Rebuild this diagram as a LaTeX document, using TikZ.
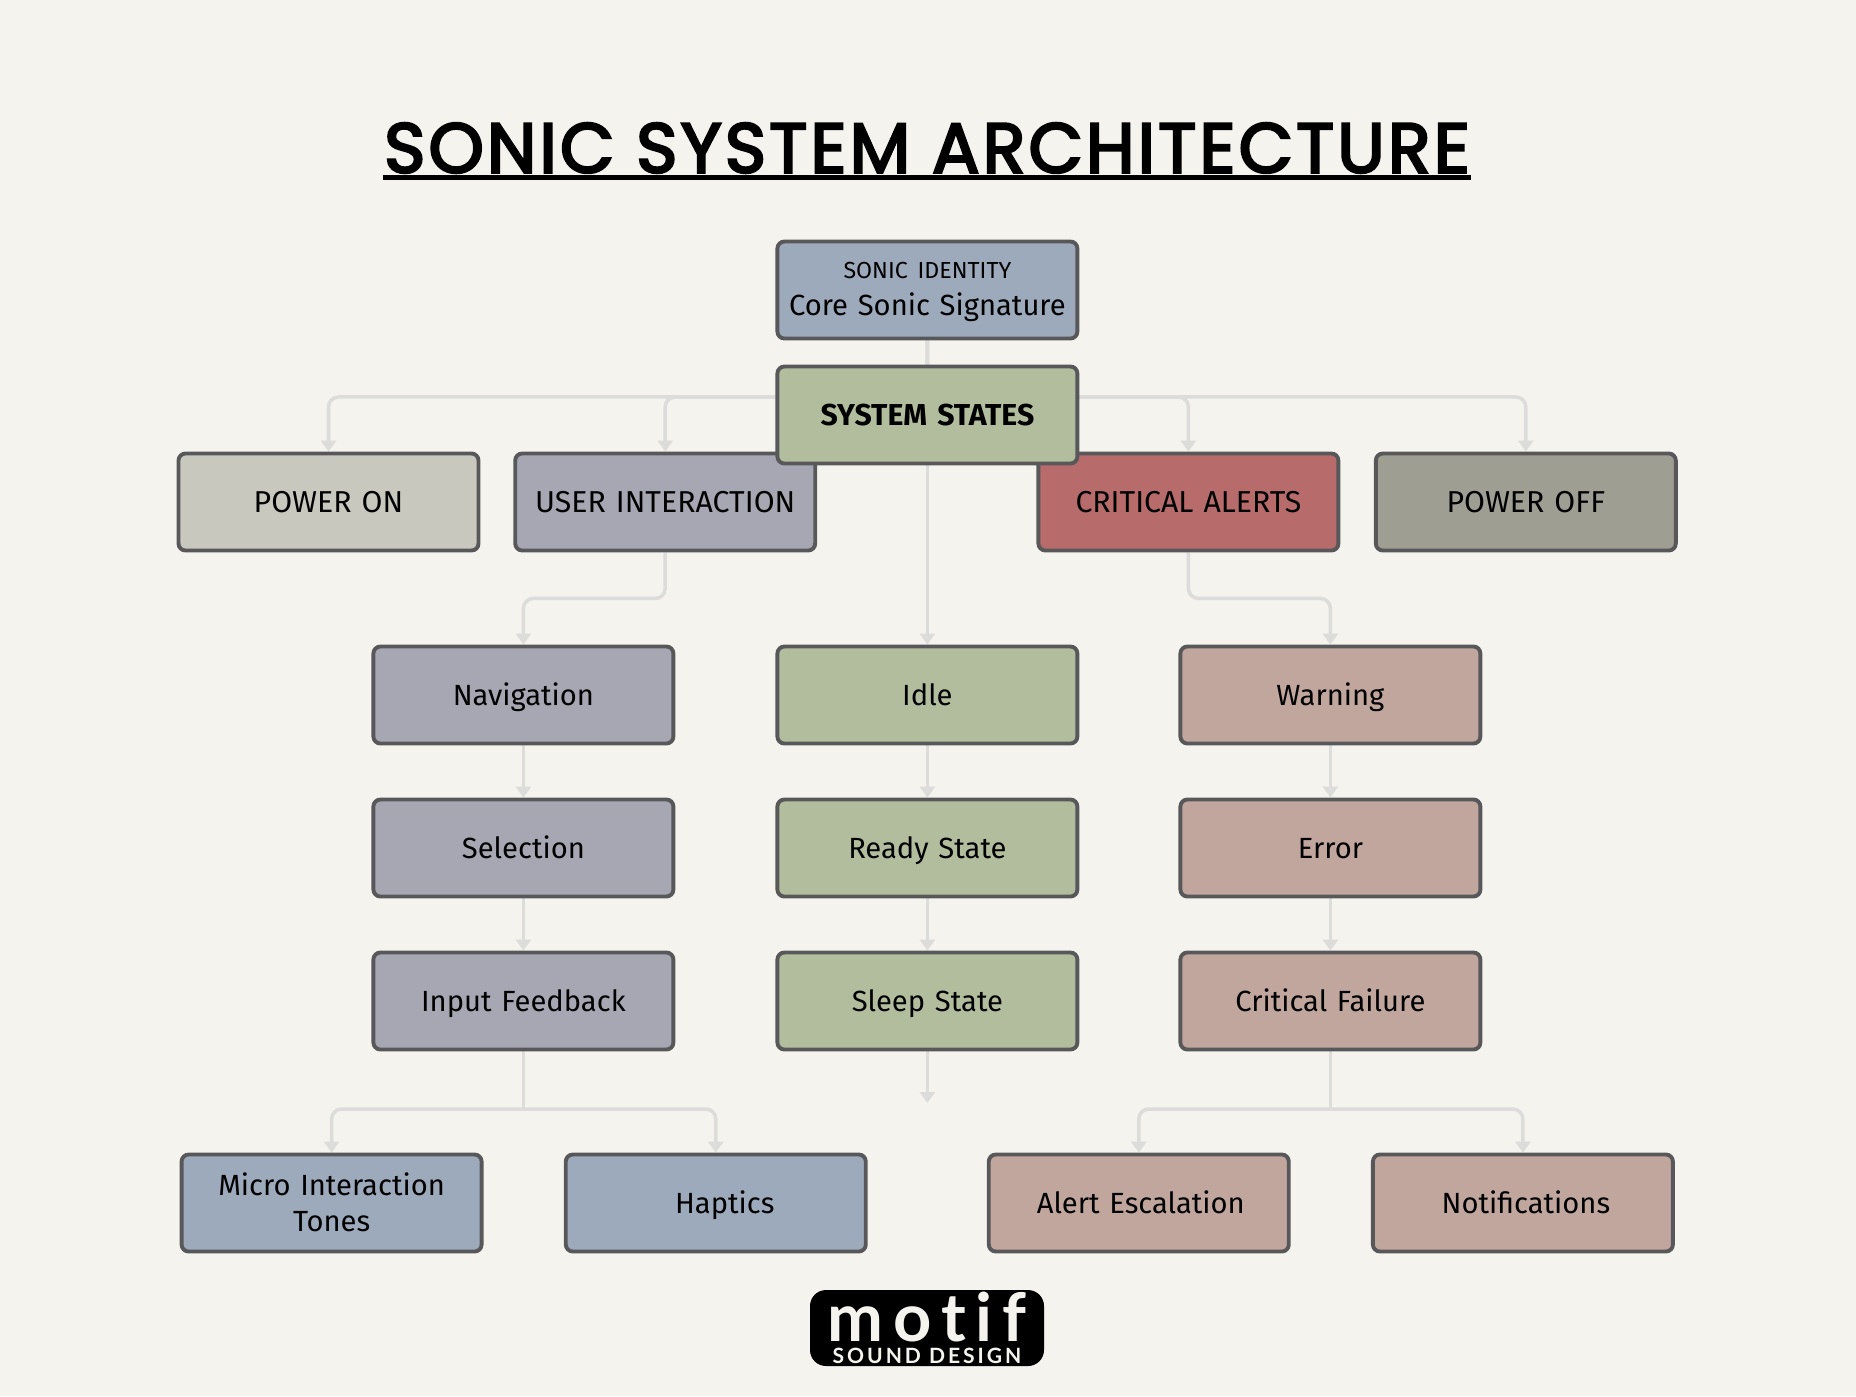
\documentclass[tikz,border=0pt]{standalone}
\usepackage{fontspec}
\setmainfont{Fira Sans}
\newfontfamily\titlefont[FakeBold=3.5, LetterSpace=4.5]{Poppins}
\newfontfamily\logofont{Lato}
\usetikzlibrary{arrows.meta, positioning, backgrounds}

\definecolor{paper}{HTML}{F4F3EE}
\definecolor{slate}{HTML}{9DAABC}
\definecolor{sage}{HTML}{B2BD9D}
\definecolor{stone}{HTML}{C8C8BE}
\definecolor{lavender}{HTML}{A7A7B3}
\definecolor{alarm}{HTML}{B76B6B}
\definecolor{ash}{HTML}{9E9E92}
\definecolor{rose}{HTML}{C1A69E}
\definecolor{edge}{HTML}{58585A}
\definecolor{wire}{HTML}{DCDCDA}

\begin{document}
\begin{tikzpicture}[node distance=1.53cm, auto]
\tikzstyle{block} = [rectangle, draw=edge, line width=1.1pt, text width=2.95cm, align=center, minimum width=3cm, minimum height=0.97cm, inner sep=0pt, rounded corners=0.07cm, font=\fontsize{8.3}{10.4}\selectfont, execute at begin node={\rule{0pt}{8.2pt}}, execute at end node={\rule[-2.2pt]{0pt}{2.2pt}}]
\tikzstyle{caps} = [font=\fontsize{8.6}{10.4}\selectfont]
\tikzstyle{line} = [draw=wire, line width=1pt, rounded corners=0.1cm, -{Triangle[length=0.11cm, width=0.15cm]}]
\tikzstyle{stem} = [draw=wire, line width=1pt]

\useasboundingbox (0,0) rectangle (18.56,-13.96);

\node [font=\titlefont\fontsize{20}{24}\selectfont, inner sep=0pt] (title) at (9.27,-1.48) {SONIC SYSTEM ARCHITECTURE};
\draw [line width=1.4pt] ([yshift=-0.04cm]title.base west |- title.south) -- ([yshift=-0.04cm]title.south east);

% top of the tree
\node [block, fill=slate, execute at end node={\rule[-4.2pt]{0pt}{4.2pt}}] (identity) at (9.274,-2.9) {{\fontsize{6.6}{8}\selectfont SONIC IDENTITY}\\ Core Sonic Signature};
\node [block, caps, fill=lavender, below of=identity, xshift=-2.622cm, yshift=-0.59cm] (userint) {USER INTERACTION};
\node [block, caps, fill=stone, left of=userint, xshift=-1.837cm] (poweron) {POWER ON};
\node [block, caps, fill=alarm, below of=identity, xshift=2.61cm, yshift=-0.59cm] (critical) {CRITICAL ALERTS};
\node [block, caps, fill=ash, right of=critical, xshift=1.844cm] (poweroff) {POWER OFF};
\node [block, fill=sage, below of=identity, yshift=0.28cm, font=\fontsize{8.6}{10.4}\selectfont\bfseries] (states) {SYSTEM STATES};

% three columns
\node [block, fill=sage, below of=states, yshift=-1.27cm] (idle) {Idle};
\node [block, fill=sage, below of=idle] (ready) {Ready State};
\node [block, fill=sage, below of=ready] (sleep) {Sleep State};
\node [block, fill=lavender, left of=idle, xshift=-2.51cm] (nav) {Navigation};
\node [block, fill=lavender, below of=nav] (selection) {Selection};
\node [block, fill=lavender, below of=selection] (input) {Input Feedback};
\node [block, fill=rose, right of=idle, xshift=2.5cm] (warning) {Warning};
\node [block, fill=rose, below of=warning] (error) {Error};
\node [block, fill=rose, below of=error] (failure) {Critical Failure};

% bottom row
\node [block, fill=slate, below of=input, xshift=-1.918cm, yshift=-0.49cm] (micro) {Micro Interaction\\ Tones};
\node [block, fill=slate, right of=micro, xshift=2.312cm] (haptics) {\hspace{0.18cm}Haptics};
\node [block, fill=rose, below of=failure, xshift=-1.916cm, yshift=-0.49cm] (alert) {\hspace{0.04cm}Alert Escalation};
\node [block, fill=rose, right of=alert, xshift=2.311cm] (notify) {\hspace{0.06cm}Notifications};
\coordinate [below of=sleep, yshift=0.51cm] (sleepend);
\coordinate [below of=input, yshift=0.45cm] (inputjoin);
\coordinate [below of=failure, yshift=0.45cm] (failurejoin);

% logo
\node [fill=black, rounded corners=0.16cm, minimum width=2.34cm, minimum height=0.76cm, inner sep=0pt] (logo) at (9.27,-13.28) {};
\node [text=paper, inner sep=0pt, anchor=base, text depth=0pt, font=\logofont\bfseries\fontsize{19}{20}\selectfont\addfontfeature{LetterSpace=15, Ligatures=NoCommon}] (logoname) at (9.27,-13.41) {motif};
\node [text=paper, inner sep=0pt, anchor=base, text depth=0pt, text height=4pt, font=\logofont\bfseries\fontsize{6}{6}\selectfont\addfontfeature{LetterSpace=14}] (logosub) at (9.27,-13.63) {SOUND DESIGN};

\begin{scope}[on background layer]
\fill [paper] (0,0) rectangle (18.56,-13.96);
\path [stem] (identity) -- (states);
\path [line] (identity.south) -- ++(0,-0.565) -| (poweron);
\path [line] (identity.south) -- ++(0,-0.565) -| (userint);
\path [line] (identity.south) -- ++(0,-0.565) -| (critical);
\path [line] (identity.south) -- ++(0,-0.565) -| (poweroff);
\path [line] (states) -- (idle);
\path [line] (userint.south) -- ++(0,-0.46) -| (nav);
\path [line] (critical.south) -- ++(0,-0.46) -| (warning);
\path [line] (nav) -- (selection);
\path [line] (selection) -- (input);
\path [line] (idle) -- (ready);
\path [line] (ready) -- (sleep);
\path [line] (sleep) -- (sleepend);
\path [line] (warning) -- (error);
\path [line] (error) -- (failure);
\path [stem] (input) -- (inputjoin);
\path [line] (inputjoin) -| (micro);
\path [line] (inputjoin) -| (haptics);
\path [stem] (failure) -- (failurejoin);
\path [line] (failurejoin) -| (alert);
\path [line] (failurejoin) -| (notify);
\end{scope}
\end{tikzpicture}
\end{document}
